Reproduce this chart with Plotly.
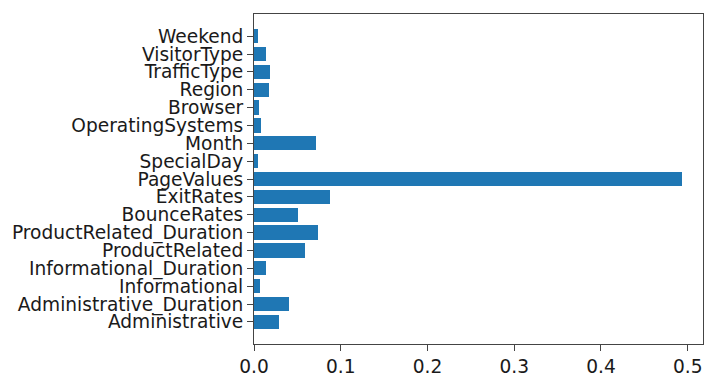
import plotly.graph_objects as go

# Feature importances for the online-shoppers model
features = [
    "Administrative", "Administrative_Duration", "Informational",
    "Informational_Duration", "ProductRelated", "ProductRelated_Duration",
    "BounceRates", "ExitRates", "PageValues", "SpecialDay", "Month",
    "OperatingSystems", "Browser", "Region", "TrafficType", "VisitorType",
    "Weekend",
]
importances = [
    0.0292, 0.0402, 0.0074,
    0.0138, 0.0586, 0.0740,
    0.0510, 0.0878, 0.4930, 0.0046, 0.0709,
    0.0077, 0.0057, 0.0169, 0.0184, 0.0138,
    0.0046,
]
x_ticks = [0.0, 0.1, 0.2, 0.3, 0.4, 0.5]

positions = list(range(len(features)))
bar_height = 0.8
x_max = max(importances) * 1.05
pad = (len(features) - 1 + bar_height) * 0.05
y_lo = -bar_height / 2 - pad
y_hi = len(features) - 1 + bar_height / 2 + pad

fig = go.Figure(
    go.Bar(
        x=importances,
        y=positions,
        orientation="h",
        width=bar_height,
        marker=dict(color="#1f77b4", line=dict(width=0)),
    )
)

axis_common = dict(
    showline=True,
    linecolor="#444444",
    linewidth=1,
    mirror=True,
    showgrid=False,
    zeroline=False,
    ticks="outside",
    ticklen=6,
    tickwidth=1,
    tickcolor="#444444",
    tickfont=dict(family="DejaVu Sans", size=18.6, color="#1a1a1a"),
)

fig.update_xaxes(
    range=[0, x_max],
    tickvals=x_ticks,
    ticktext=[f"{v:.1f}" for v in x_ticks],
    **axis_common,
)
fig.update_yaxes(
    range=[y_lo, y_hi],
    tickvals=positions,
    ticktext=features,
    **axis_common,
)

fig.update_layout(
    width=705,
    height=378,
    margin=dict(l=254, r=1, t=14, b=29, pad=0),
    paper_bgcolor="white",
    plot_bgcolor="white",
    showlegend=False,
    bargap=0,
)

fig.write_html("out.html")
